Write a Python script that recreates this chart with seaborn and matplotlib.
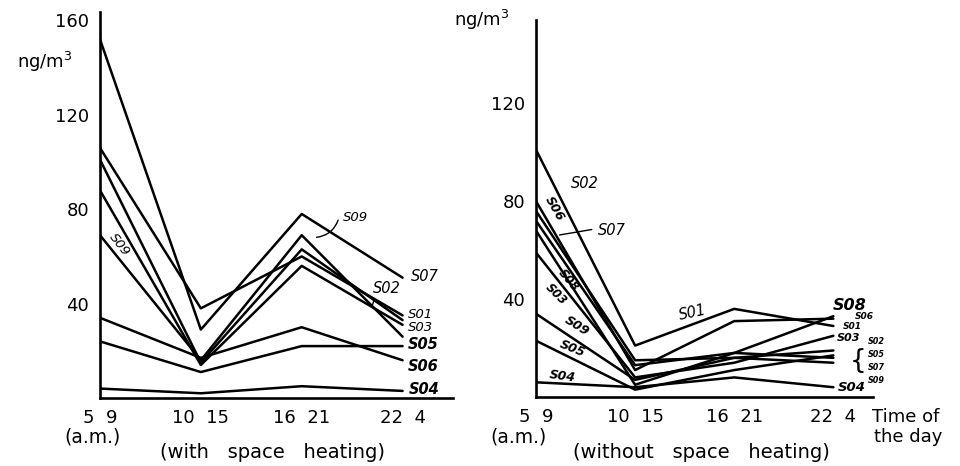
import matplotlib
matplotlib.use("Agg")
import matplotlib.pyplot as plt
import seaborn as sns
import pandas as pd

# Sampling periods (hours) and their axis labels
periods = [0, 1, 2, 3]
period_labels = ["5  9", "10  15", "16  21", "22  4"]

# Concentrations (ng/m3) with space heating
heat_S01 = [106, 38, 60, 35]
heat_S02 = [101, 15, 63, 33]
heat_S03 = [88, 14, 56, 31]
heat_S04 = [4, 2, 5, 3]
heat_S05 = [24, 11, 22, 22]
heat_S06 = [34, 17, 30, 16]
heat_S07 = [152, 29, 78, 51]
heat_S09 = [69, 16, 69, 26]

# Concentrations (ng/m3) without space heating
cold_S01 = [72, 13, 18, 16]
cold_S02 = [101, 21, 36, 29]
cold_S03 = [59, 8, 14, 25]
cold_S04 = [6, 4, 8, 4]
cold_S05 = [23, 3, 11, 17]
cold_S06 = [80, 11, 31, 32]
cold_S07 = [76, 15, 16, 19]
cold_S08 = [68, 5, 18, 33]
cold_S09 = [34, 7, 16, 14]

heat = {"S01": heat_S01, "S02": heat_S02, "S03": heat_S03, "S04": heat_S04,
        "S05": heat_S05, "S06": heat_S06, "S07": heat_S07, "S09": heat_S09}
cold = {"S01": cold_S01, "S02": cold_S02, "S03": cold_S03, "S04": cold_S04,
        "S05": cold_S05, "S06": cold_S06, "S07": cold_S07, "S08": cold_S08,
        "S09": cold_S09}


def long_form(series):
    rows = []
    for site, vals in series.items():
        for p, v in zip(periods, vals):
            rows.append({"site": site, "period": p, "conc": v})
    return pd.DataFrame(rows)


df_heat = long_form(heat)
df_cold = long_form(cold)

sns.set_style("white")
plt.rcParams["font.family"] = ["DejaVu Sans"]
plt.rcParams["mathtext.fontset"] = "dejavusans"

W, H = 960, 466
fig = plt.figure(figsize=(W / 100, H / 100), dpi=100)
fig.patch.set_facecolor("white")

ax1 = fig.add_axes([100 / W, (H - 398) / H, 353 / W, 386 / H])
ax2 = fig.add_axes([536 / W, (H - 397) / H, 337 / W, 377 / H])

for ax, df in ((ax1, df_heat), (ax2, df_cold)):
    sns.lineplot(data=df, x="period", y="conc", hue="site",
                 palette=["black"] * df["site"].nunique(), legend=False,
                 linewidth=1.8, ax=ax, estimator=None, sort=False)
    ax.set_xlabel("")
    ax.set_ylabel("")
    for side in ("top", "right"):
        ax.spines[side].set_visible(False)
    for side in ("left", "bottom"):
        ax.spines[side].set_color("black")
        ax.spines[side].set_linewidth(1.9)
    ax.set_xticks(periods)
    ax.set_xticklabels(period_labels)
    ax.tick_params(axis="x", direction="out", length=3, width=1.2, pad=5,
                   labelsize=13, colors="black")
    ax.tick_params(axis="y", direction="out", length=4, width=1.5, pad=4,
                   labelsize=13, colors="black")
    ax.set_facecolor("white")

ax1.set_xlim(0, 3.5)
ax1.set_ylim(0, 163.6)
ax1.set_yticks([40, 80, 120, 160])
ax2.set_xlim(0, 3.4)
ax2.set_ylim(0, 154)
ax2.set_yticks([40, 80, 120])

lab = dict(color="black", style="italic", clip_on=False)

# Site labels, panel with space heating
ax1.text(3.08, 51.7, "S07", fontsize=10.5, va="center", ha="left", **lab)
ax1.text(2.71, 46.6, "S02", fontsize=10.5, va="center", ha="left", **lab)
ax1.text(3.05, 35.5, "S01", fontsize=9.5, va="center", ha="left", **lab)
ax1.text(3.05, 30.0, "S03", fontsize=9.5, va="center", ha="left", **lab)
ax1.text(3.05, 22.6, "S05", fontsize=10.5, va="center", ha="left", weight="bold", **lab)
ax1.text(3.05, 13.2, "S06", fontsize=10.5, va="center", ha="left", weight="bold", **lab)
ax1.text(3.06, 3.8, "S04", fontsize=10.5, va="center", ha="left", weight="bold", **lab)
ax1.text(2.41, 76.5, "S09", fontsize=9.5, va="center", ha="left", **lab)
ax1.annotate("", xy=(2.12, 68.0), xytext=(2.37, 76.5),
             arrowprops=dict(arrowstyle="-", lw=1.0, color="black",
                             connectionstyle="arc3,rad=-0.35"))
ax1.annotate("", xy=(2.69, 38.0), xytext=(2.73, 43.0),
             arrowprops=dict(arrowstyle="-", lw=1.0, color="black"))
ax1.text(0.19, 65.0, "S09", fontsize=9.5, va="center", ha="center",
         rotation=-52, **lab)

# Site labels, panel without space heating
ax2.text(0.49, 87.3, "S02", fontsize=10.5, va="center", ha="center", **lab)
ax2.text(0.19, 77.0, "S06", fontsize=9, va="center", ha="center",
         rotation=-60, weight="bold", **lab)
ax2.text(0.62, 68.2, "S07", fontsize=10.5, va="center", ha="left", **lab)
ax2.annotate("", xy=(0.21, 66.0), xytext=(0.59, 68.6),
             arrowprops=dict(arrowstyle="-", lw=1.0, color="black"))
ax2.text(0.33, 47.5, "S08", fontsize=8.5, va="center", ha="center",
         rotation=-50, weight="bold", **lab)
ax2.text(0.20, 42.0, "S03", fontsize=8.5, va="center", ha="center",
         rotation=-45, weight="bold", **lab)
ax2.text(0.41, 29.0, "S09", fontsize=9, va="center", ha="center",
         rotation=-32, weight="bold", **lab)
ax2.text(0.37, 19.6, "S05", fontsize=9, va="center", ha="center",
         rotation=-22, weight="bold", **lab)
ax2.text(0.27, 8.6, "S04", fontsize=9, va="center", ha="center",
         rotation=-8, weight="bold", **lab)
ax2.text(1.58, 34.3, "S01", fontsize=10.5, va="center", ha="center",
         rotation=12, **lab)
ax2.text(2.99, 37.5, "S08", fontsize=11.5, va="center", ha="left", weight="bold", **lab)
ax2.text(3.22, 33.0, "S06", fontsize=6.5, va="center", ha="left", weight="bold", **lab)
ax2.text(3.10, 29.0, "S01", fontsize=6.5, va="center", ha="left", weight="bold", **lab)
ax2.text(3.04, 24.0, "S03", fontsize=8, va="center", ha="left", weight="bold", **lab)
for yy, name in zip([22.6, 17.3, 12.0, 6.7], ["S02", "S05", "S07", "S09"]):
    ax2.text(3.35, yy, name, fontsize=5.8, va="center", ha="left",
             weight="bold", **lab)
ax2.text(3.245, 14.6, "{", fontsize=19, va="center", ha="center",
         color="black", clip_on=False)
ax2.text(3.04, 4.0, "S04", fontsize=9.5, va="center", ha="left", weight="bold", **lab)

# Axis titles and captions
txt = dict(color="black", fontsize=13)
fig.text(45 / W, 1 - 62 / H, "ng/m$^3$", ha="center", va="center", **txt)
fig.text(482 / W, 1 - 20 / H, "ng/m$^3$", ha="center", va="center", **txt)
fig.text(92 / W, 1 - 437 / H, "(a.m.)", ha="center", va="center",
         color="black", fontsize=13.5)
fig.text(518 / W, 1 - 437 / H, "(a.m.)", ha="center", va="center",
         color="black", fontsize=13.5)
fig.text(272 / W, 1 - 452 / H, "(with   space   heating)", ha="center",
         va="center", color="black", fontsize=14)
fig.text(701 / W, 1 - 452 / H, "(without   space   heating)", ha="center",
         va="center", color="black", fontsize=14)
fig.text(872 / W, 1 - 417 / H, "Time of", ha="left", va="center", **txt)
fig.text(874 / W, 1 - 437 / H, "the day", ha="left", va="center", **txt)

fig.savefig("out.png", dpi=100, facecolor="white")
